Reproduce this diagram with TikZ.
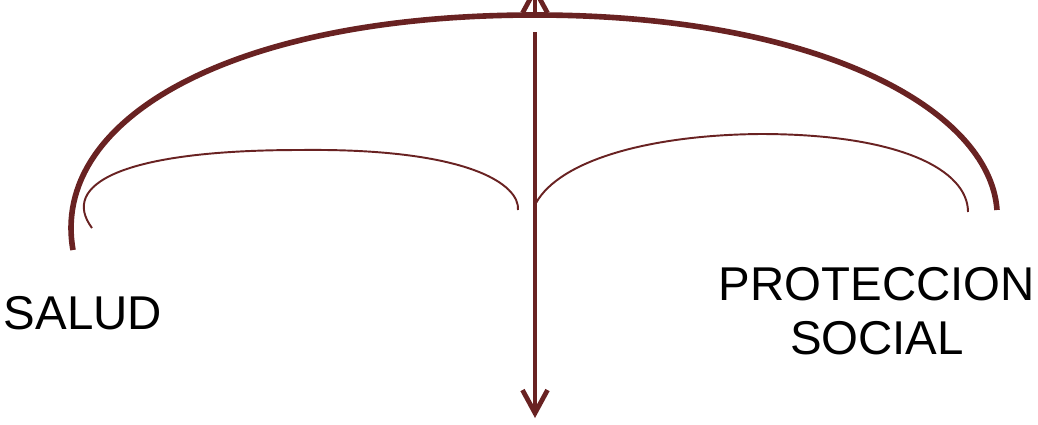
\documentclass[tikz,border=0pt]{standalone}
\usepackage{fontspec}
\setmainfont{Liberation Sans}
\usetikzlibrary{arrows.meta}
\definecolor{arccolor}{HTML}{692222}

\begin{document}
\begin{tikzpicture}[x=0.02cm, y=-0.02cm,
    bigarc/.style={draw=arccolor, line width=3.2pt},
    smallarc/.style={draw=arccolor, line width=1.1pt},
    arr/.style={draw=arccolor, line width=2.7pt, -{Straight Barb[length=0.46cm, width=0.5cm]}},
    lbl/.style={font=\fontsize{27}{31}\selectfont, align=center, text=black, inner sep=0pt},
  ]
    \useasboundingbox (0,0) rectangle (1038,424);

    \coordinate (bigl) at (73,250);
    \coordinate (apex) at (535,15);
    \coordinate (bigr) at (997,210);
    \coordinate (top) at (535,-15);
    \coordinate (stem) at (535,32);
    \coordinate (foot) at (535,418);

    % outer arc
    \draw[bigarc] (bigl) .. controls (50,120) and (230,15) .. (apex)
                  .. controls (820,15) and (990,110) .. (bigr);
    \draw[arr] (apex) -- (top);
    \draw[arr] (stem) -- (foot);

    % inner arcs
    \coordinate (lefttop) at (300,150);
    \coordinate (righttop) at (760,134);
    \draw[smallarc] (92,228) .. controls (60,185) and (120,150) .. (lefttop)
                  .. controls (470,148) and (520,185) .. (518,210);
    \draw[smallarc] (536,203) .. controls (560,160) and (650,135) .. (righttop)
                  .. controls (900,134) and (968,170) .. (968,212);

    \node[lbl] (salud) at (83,313) {SALUD};
    \node[lbl] (prot) at (877,311) {PROTECCION\\SOCIAL};
\end{tikzpicture}
\end{document}
